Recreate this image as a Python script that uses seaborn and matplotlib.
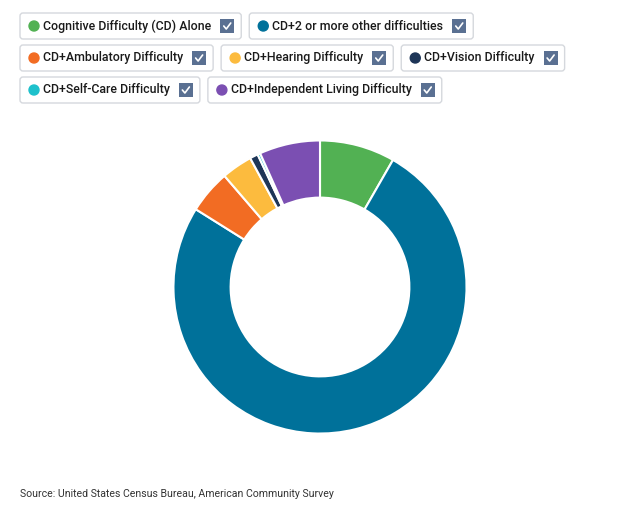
import matplotlib
matplotlib.use("Agg")
import matplotlib.pyplot as plt
import seaborn as sns
from matplotlib.patches import FancyBboxPatch, Circle, Rectangle

# share of people with cognitive difficulty, by combination (percent)
labels = [
    "Cognitive Difficulty (CD) Alone",
    "CD+2 or more other difficulties",
    "CD+Ambulatory Difficulty",
    "CD+Hearing Difficulty",
    "CD+Vision Difficulty",
    "CD+Self-Care Difficulty",
    "CD+Independent Living Difficulty",
]
values = [8.3, 75.6, 4.8, 3.4, 0.9, 0.3, 6.7]
colors = ["#52b153", "#00719a", "#f26c23", "#fcbb3e", "#1d3557", "#1ec1cc", "#7b4fb2"]
legend_rows = [[0, 1], [2, 3, 4], [5, 6]]
source = "Source: United States Census Bureau, American Community Survey"

sns.set_theme(style="white")
plt.rcParams["font.family"] = ["Roboto", "DejaVu Sans"]

W, H = 640, 517
fig = plt.figure(figsize=(W / 100, H / 100), dpi=100)
fig.patch.set_facecolor("white")

# donut
ax = fig.add_axes([172 / W, 1 - 435 / H, 296 / W, 296 / H])
ax.pie(
    values,
    colors=colors,
    startangle=90,
    counterclock=False,
    radius=1,
    wedgeprops=dict(width=0.39, edgecolor="white", linewidth=1.5),
)
ax.set_xlim(-1.01, 1.01)
ax.set_ylim(-1.01, 1.01)
ax.set_aspect("equal")
ax.axis("off")

# overlay in pixel coordinates for the legend chips and source note
ov = fig.add_axes([0, 0, 1, 1], zorder=5)
ov.set_xlim(0, W)
ov.set_ylim(H, 0)
ov.axis("off")
ov.patch.set_alpha(0)

renderer = fig.canvas.get_renderer()
row_y = [26, 58, 90]
for r, row in enumerate(legend_rows):
    x = 20
    yc = row_y[r]
    for i in row:
        t = ov.text(x + 23, yc, labels[i], fontsize=8.9, fontweight="medium",
                    color="#1a1a1a", va="center", ha="left")
        w = t.get_window_extent(renderer).width
        cb = x + 23 + w + 9
        right = cb + 14 + 7
        ov.add_patch(FancyBboxPatch((x, yc - 13), right - x, 26,
                                    boxstyle="round,pad=0,rounding_size=3",
                                    facecolor="white", edgecolor="#d5d8dd", lw=1))
        ov.add_patch(Circle((x + 14, yc), 5, color=colors[i], zorder=3))
        ov.add_patch(Rectangle((cb, yc - 7), 14, 14, facecolor="#5a7092",
                               edgecolor="none", zorder=3))
        ov.plot([cb + 3.5, cb + 6, cb + 10.5], [yc, yc + 3, yc - 3],
                color="white", lw=1.2, zorder=4, solid_capstyle="round")
        x = right + 8

ov.text(20, 494, source, fontsize=7.6, color="#333333", va="center", ha="left")

fig.savefig("out.png", dpi=100, facecolor="white")
